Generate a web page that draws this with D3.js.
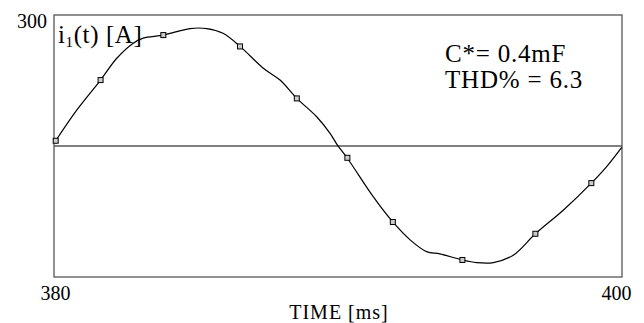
<!DOCTYPE html>
<html><head><meta charset="utf-8">
<script src="https://cdn.jsdelivr.net/npm/d3@7"></script>
<style>body{margin:0;background:#fff}svg{display:block}text{font-family:"Liberation Serif","Times New Roman",serif;fill:#000}</style>
</head><body><svg id="c" width="644" height="323"></svg>
<script>
const curveT = [380.06,380.80,381.64,382.21,382.78,383.14,383.85,384.79,385.38,385.95,386.57,387.37,387.96,388.55,389.25,389.72,389.98,390.33,391.24,391.93,392.54,393.12,393.59,394.38,394.88,395.47,396.17,396.95,397.93,398.92,399.46,399.99];
const curveI = [12,82,151,201,235,247,254,269,269,258,227,178,151,109,67,29,2,-28,-116,-174,-215,-242,-247,-261,-267,-267,-250,-201,-147,-85,-47,-3];
const markerT = [380.06,381.64,383.85,386.55,388.55,390.33,391.93,394.38,396.95,398.92];
const markerI = [12,151,254,228,109,-27,-174,-261,-201,-85];
const xTicks = [380,400];
const yTicks = [300];

const svg = d3.select("#c");
const L=54,R=622,T=15,B=277;
const x = d3.scaleLinear().domain([380,400]).range([L,R]);
const y = d3.scaleLinear().domain([-300,300]).range([B,T]);

svg.append("rect").attr("x",L).attr("y",T).attr("width",R-L).attr("height",B-T)
  .attr("fill","none").attr("stroke","#555").attr("stroke-width",1.3);
svg.append("line").attr("x1",L).attr("x2",R).attr("y1",y(0)).attr("y2",y(0))
  .attr("stroke","#555").attr("stroke-width",1.3);

const pts = curveT.map((t,i)=>[x(t),y(curveI[i])]);
svg.append("path").attr("d",d3.line().curve(d3.curveCatmullRom.alpha(0.5))(pts))
  .attr("fill","none").attr("stroke","#000").attr("stroke-width",1.2);

svg.selectAll("rect.m").data(markerT).join("rect").attr("class","m")
  .attr("x",(t)=>x(t)-2.5).attr("y",(t,i)=>y(markerI[i])-2.5).attr("width",5).attr("height",5)
  .attr("fill","#ccc").attr("stroke","#000").attr("stroke-width",1);

const xa = svg.append("g").attr("transform",`translate(0,${B})`)
  .call(d3.axisBottom(x).tickValues(xTicks).tickSize(0).tickPadding(8).tickFormat(d3.format("d")));
xa.select(".domain").remove();
xa.selectAll("text").attr("font-size",20).attr("font-family","Liberation Serif").attr("fill","#000")
  .attr("dy",null).attr("y",23).attr("text-anchor",d=>d===400?"end":"middle")
  .attr("dx",d=>d===400?9:1);

const ya = svg.append("g").attr("transform",`translate(${L},0)`)
  .call(d3.axisLeft(y).tickValues(yTicks).tickSize(0).tickPadding(6).tickFormat(d3.format("d")));
ya.select(".domain").remove();
ya.selectAll("text").attr("font-size",20).attr("font-family","Liberation Serif").attr("fill","#000")
  .attr("dy",null).attr("y",12).attr("dx",-1);

svg.append("text").attr("x",339).attr("y",319).attr("text-anchor","middle").attr("font-size",20)
  .attr("letter-spacing",1).text("TIME [ms]");

const lab = svg.append("text").attr("x",58).attr("y",43).attr("font-size",25).attr("letter-spacing",0.6);
lab.append("tspan").text("i");
lab.append("tspan").attr("font-size",15).attr("dy",4).text("1");
lab.append("tspan").attr("dy",-4).text("(t) [A]");

svg.append("text").attr("x",445).attr("y",61.5).attr("font-size",25).attr("letter-spacing",0.8).text("C*= 0.4mF");
svg.append("text").attr("x",445).attr("y",87.5).attr("font-size",25).attr("letter-spacing",0.8).text("THD% = 6.3");
</script></body></html>
